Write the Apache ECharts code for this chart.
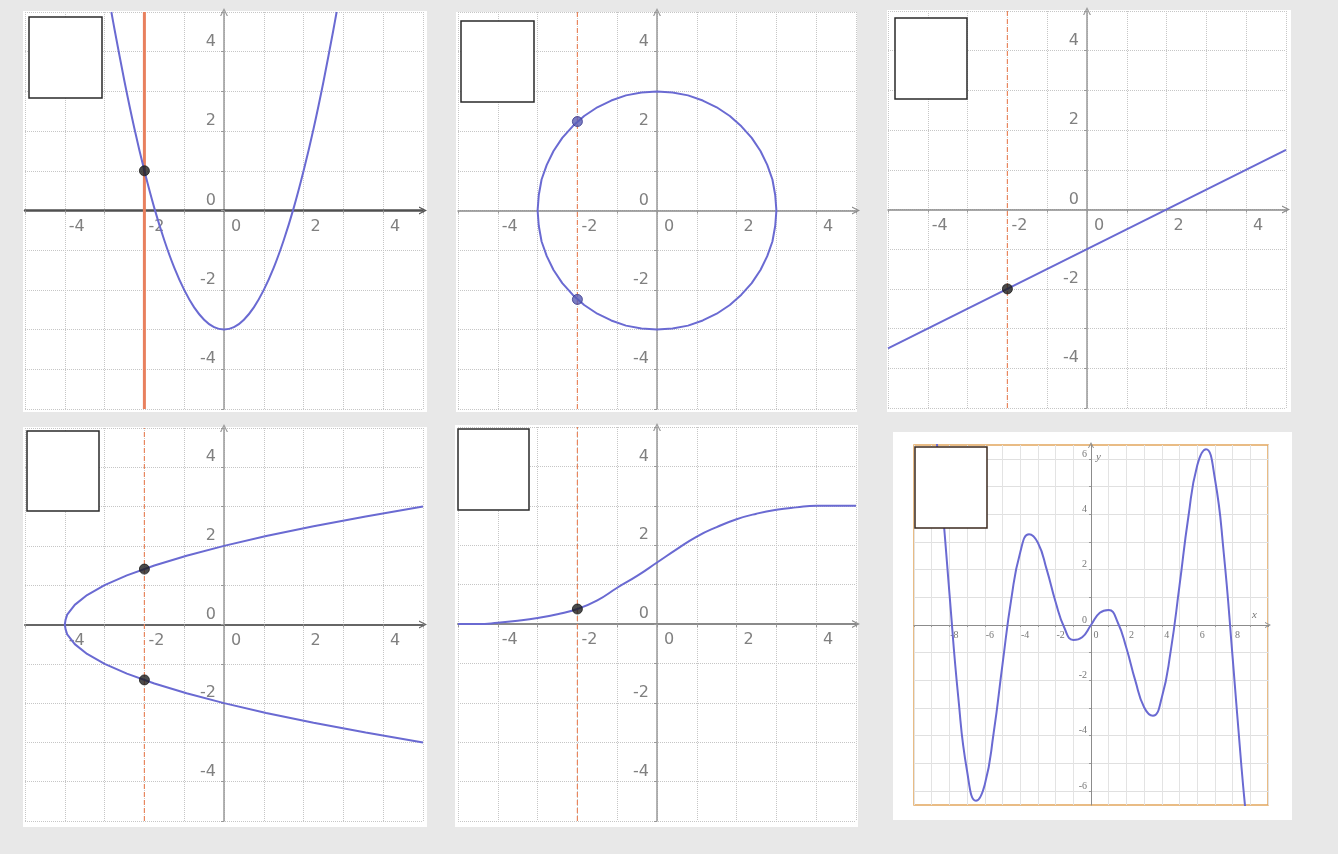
<!DOCTYPE html>
<html><head><meta charset="utf-8">
<script src="https://cdn.jsdelivr.net/npm/echarts@6.0.0/dist/echarts.min.js"></script>
<style>html,body{margin:0;padding:0;background:#e8e8e8}#c{width:1338px;height:854px}</style>
</head><body><div id="c"></div>
<script>
// ---------- data ----------
const labelledTicks = [-4, -2, 0, 2, 4];
const wideXLabels = [-8, -6, -4, -2, 0, 2, 4, 6, 8];
const wideYLabels = [-6, -4, -2, 0, 2, 4, 6];

const guideX = [-2, -2];
const guideY = [-5, 5];

// panel 1: parabola
const parabolaX = [-2.83, -2.75, -2.5, -2.25, -2, -1.75, -1.5, -1.25, -1, -0.75, -0.5, -0.25, 0, 0.25, 0.5, 0.75, 1, 1.25, 1.5, 1.75, 2, 2.25, 2.5, 2.75, 2.83];
const parabolaY = [5, 4.56, 3.25, 2.06, 1, 0.06, -0.75, -1.44, -2, -2.44, -2.75, -2.94, -3, -2.94, -2.75, -2.44, -2, -1.44, -0.75, 0.06, 1, 2.06, 3.25, 4.56, 5];
const parabolaPointX = [-2];
const parabolaPointY = [1];

// panel 2: circle
const circleX = [3, 2.97, 2.9, 2.77, 2.6, 2.38, 2.12, 1.83, 1.5, 1.15, 0.78, 0.39, 0,
  -0.39, -0.78, -1.15, -1.5, -1.83, -2.12, -2.38, -2.6, -2.77, -2.9, -2.97, -3,
  -2.97, -2.9, -2.77, -2.6, -2.38, -2.12, -1.83, -1.5, -1.15, -0.78, -0.39, 0,
  0.39, 0.78, 1.15, 1.5, 1.83, 2.12, 2.38, 2.6, 2.77, 2.9, 2.97, 3];
const circleY = [0, 0.39, 0.78, 1.15, 1.5, 1.83, 2.12, 2.38, 2.6, 2.77, 2.9, 2.97, 3,
  2.97, 2.9, 2.77, 2.6, 2.38, 2.12, 1.83, 1.5, 1.15, 0.78, 0.39, 0,
  -0.39, -0.78, -1.15, -1.5, -1.83, -2.12, -2.38, -2.6, -2.77, -2.9, -2.97, -3,
  -2.97, -2.9, -2.77, -2.6, -2.38, -2.12, -1.83, -1.5, -1.15, -0.78, -0.39, 0];
const circlePointX = [-2, -2];
const circlePointY = [2.24, -2.24];

// panel 3: straight line
const lineX = [-5, 5];
const lineY = [-3.5, 1.5];
const linePointX = [-2];
const linePointY = [-2];

// panel 4: sideways parabola
const sideX = [5, 3.56, 2.25, 1.06, 0, -0.94, -1.75, -2.44, -3, -3.44, -3.75, -3.94, -3.98, -4, -3.98, -3.94, -3.75, -3.44, -3, -2.44, -1.75, -0.94, 0, 1.06, 2.25, 3.56, 5];
const sideY = [3, 2.75, 2.5, 2.25, 2, 1.75, 1.5, 1.25, 1, 0.75, 0.5, 0.25, 0.125, 0, -0.125, -0.25, -0.5, -0.75, -1, -1.25, -1.5, -1.75, -2, -2.25, -2.5, -2.75, -3];
const sidePointX = [-2, -2];
const sidePointY = [1.41, -1.41];

// panel 5: S-curve
const sX = [-5, -4.5, -4, -3.5, -3, -2.5, -2, -1.5, -1, -0.5, 0, 0.5, 1, 1.5, 2, 2.5, 3, 3.5, 4, 4.5, 5];
const sY = [0, 0, 0.03, 0.08, 0.15, 0.25, 0.38, 0.6, 0.92, 1.22, 1.56, 1.9, 2.22, 2.46, 2.66, 2.8, 2.9, 2.96, 3, 3, 3];
const sPointX = [-2];
const sPointY = [0.38];

// panel 6: oscillating curve
const waveX = [-8.75, -8.5, -8, -7.5, -7, -6.5, -6, -5.5, -5, -4.5, -4, -3.5, -3, -2.5, -2, -1.5, -1, -0.5, 0, 0.5, 1, 1.5, 2, 2.5, 3, 3.5, 4, 4.5, 5, 5.5, 6, 6.5, 7, 7.5, 8, 8.5, 8.75];
const waveY = [6.84, 5.12, 1.16, -2.6, -5.28, -6.35, -5.76, -3.9, -1.42, 0.95, 2.62, 3.28, 2.97, 2.0, 0.83, -0.11, -0.54, -0.44, 0, 0.44, 0.54, 0.11, -0.83, -2.0, -2.97, -3.28, -2.62, -0.95, 1.42, 3.9, 5.76, 6.35, 5.28, 2.6, -1.16, -5.12, -6.84];

// ---------- helpers ----------
const zip = (xs, ys) => xs.map((x, i) => [x, ys[i]]);
const ARROW = 'path://M0,10 L5,0 L10,10 L8.4,10 L5,3.2 L1.6,10 Z';
const labelFmt = list => v => (list.some(t => Math.abs(t - v) < 1e-9) ? String(v) : '');

const CURVE = '#6a6ad2';
const GUIDE = '#e8875f';
const FONT = 'DejaVu Sans';

const gridBoxes = [
  { left: 25, top: 12, width: 398, height: 397 },
  { left: 458, top: 12, width: 398, height: 397 },
  { left: 888, top: 11, width: 398, height: 397 },
  { left: 25, top: 428, width: 398, height: 393 },
  { left: 458, top: 427, width: 398, height: 394 }
];

function mkX(gi, color, width) {
  return {
    type: 'value', gridIndex: gi, min: -5, max: 5, interval: 1, position: 'bottom',
    offset: -gridBoxes[gi].height / 2,
    axisLine: { onZero: false, lineStyle: { color: color, width: width }, symbol: ['none', ARROW], symbolSize: [8, 8] },
    axisTick: { show: true, length: 3, lineStyle: { color: '#999' } },
    axisLabel: { formatter: labelFmt(labelledTicks), fontSize: 16, color: '#808080', fontFamily: FONT,
      align: 'center', padding: [0, 0, 0, 24], margin: 8 },
    splitLine: { show: true, lineStyle: { color: '#c6c6c6', type: 'dotted', width: 1 } }
  };
}
function mkY(gi) {
  return {
    type: 'value', gridIndex: gi, min: -5, max: 5, interval: 1, position: 'left',
    offset: -gridBoxes[gi].width / 2,
    axisLine: { onZero: false, lineStyle: { color: '#9a9a9a', width: 1.5 }, symbol: ['none', ARROW], symbolSize: [8, 8] },
    axisTick: { show: true, length: 3, lineStyle: { color: '#999' } },
    axisLabel: { formatter: labelFmt(labelledTicks), fontSize: 16, color: '#808080', fontFamily: FONT,
      verticalAlign: 'bottom', padding: [0, 0, 2, 0], margin: 8 },
    splitLine: { show: true, lineStyle: { color: '#c6c6c6', type: 'dotted', width: 1 } }
  };
}
function curve(gi, xs, ys, smooth) {
  return { type: 'line', xAxisIndex: gi, yAxisIndex: gi, data: zip(xs, ys), smooth: smooth, showSymbol: false,
    lineStyle: { color: CURVE, width: 2 }, silent: true, z: 3 };
}
function guide(gi, solid) {
  return { type: 'line', xAxisIndex: gi, yAxisIndex: gi, data: zip(guideX, guideY), showSymbol: false, silent: true,
    lineStyle: solid ? { color: '#e8805e', width: 3 } : { color: GUIDE, width: 1.2, type: [5, 3] }, z: 2 };
}
function dots(gi, xs, ys, color, border) {
  return { type: 'scatter', xAxisIndex: gi, yAxisIndex: gi, data: zip(xs, ys), symbolSize: 10, silent: true,
    itemStyle: { color: color, borderColor: border || color, borderWidth: 1 }, z: 5 };
}

const panelBacks = [
  [23, 11, 404, 401], [456, 12, 401, 400], [887, 10, 404, 402],
  [23, 427, 404, 400], [455, 425, 403, 402], [893, 432, 399, 388]
];
const boxes = [
  [29, 17, 73, 81], [461, 21, 73, 81], [895, 18, 72, 81],
  [27, 431, 72, 80], [458, 429, 71, 81], [915, 447, 72, 81]
];

const option = {
  backgroundColor: '#e8e8e8',
  animation: false,
  grid: [
    ...gridBoxes,
    { left: 914, top: 459, width: 354, height: 332 },
    { left: 914, top: 445, width: 354, height: 360, show: true, backgroundColor: 'transparent', borderColor: '#e2a65e', borderWidth: 1.5 }
  ],
  xAxis: [
    mkX(0, '#505050', 2.5), mkX(1, '#8a8a8a', 1.5), mkX(2, '#8a8a8a', 1.5), mkX(3, '#666', 2), mkX(4, '#8a8a8a', 2),
    { type: 'value', gridIndex: 5, min: -10, max: 10, interval: 1, position: 'bottom', offset: -166,
      axisLine: { show: false, onZero: false }, axisTick: { show: true, length: 2, lineStyle: { color: '#999' } },
      axisLabel: { formatter: labelFmt(wideXLabels), fontSize: 10, color: '#777', fontFamily: 'Liberation Serif',
        align: 'center', padding: [0, 0, 0, 10], margin: 5 },
      splitLine: { show: false } },
    { type: 'value', gridIndex: 6, min: -10, max: 10, interval: 1, position: 'bottom', offset: -180,
      axisLine: { onZero: false, lineStyle: { color: '#8c8c8c', width: 1 }, symbol: ['none', ARROW], symbolSize: [6, 6] },
      axisTick: { show: false }, axisLabel: { show: false },
      splitLine: { show: true, lineStyle: { color: '#e3e3e3', width: 1 } },
      name: 'x', nameLocation: 'end', nameGap: -16,
      nameTextStyle: { fontStyle: 'italic', fontSize: 11, color: '#777', fontFamily: 'Liberation Serif', verticalAlign: 'bottom', padding: [0, 0, 4, 0] } }
  ],
  yAxis: [
    mkY(0), mkY(1), mkY(2), mkY(3), mkY(4),
    { type: 'value', gridIndex: 5, min: -6, max: 6, interval: 1, position: 'left', offset: -177,
      axisLine: { show: false, onZero: false }, axisTick: { show: true, length: 2, lineStyle: { color: '#999' } },
      axisLabel: { formatter: labelFmt(wideYLabels), fontSize: 10, color: '#777', fontFamily: 'Liberation Serif',
        verticalAlign: 'bottom', margin: 4 },
      splitLine: { show: true, lineStyle: { color: '#e0e0e0', width: 1 } } },
    { type: 'value', gridIndex: 6, min: -6.5, max: 6.5, position: 'left', offset: -177,
      axisLine: { onZero: false, lineStyle: { color: '#8c8c8c', width: 1 }, symbol: ['none', ARROW], symbolSize: [6, 6] },
      axisTick: { show: false }, axisLabel: { show: false }, splitLine: { show: false },
      name: 'y', nameLocation: 'end', nameGap: -18,
      nameTextStyle: { fontStyle: 'italic', fontSize: 11, color: '#777', fontFamily: 'Liberation Serif', align: 'left', padding: [0, 0, 0, 5] } }
  ],
  graphic: [
    ...panelBacks.map(r => ({ type: 'rect', silent: true, z: -1, shape: { x: r[0], y: r[1], width: r[2], height: r[3] }, style: { fill: '#ffffff' } })),
    ...boxes.map((b, i) => ({ type: 'rect', silent: true, z: 100, shape: { x: b[0], y: b[1], width: b[2], height: b[3] },
      style: { fill: '#ffffff', stroke: i === 5 ? '#3b2a1f' : '#2a2a2a', lineWidth: 1.5 } }))
  ],
  series: [
    guide(0, true), curve(0, parabolaX, parabolaY, 0.3), dots(0, parabolaPointX, parabolaPointY, '#1e1e1e'),
    guide(1, false), curve(1, circleX, circleY, false), dots(1, circlePointX, circlePointY, '#5a5cb4', '#34348a'),
    guide(2, false), curve(2, lineX, lineY, false), dots(2, linePointX, linePointY, '#1e1e1e'),
    guide(3, false), curve(3, sideX, sideY, false), dots(3, sidePointX, sidePointY, '#1e1e1e'),
    guide(4, false), curve(4, sX, sY, 0.5), dots(4, sPointX, sPointY, '#1e1e1e'),
    { type: 'line', xAxisIndex: 6, yAxisIndex: 6, data: zip(waveX, waveY), smooth: 0.5, showSymbol: false, silent: true,
      lineStyle: { color: CURVE, width: 2 }, z: 3 }
  ]
};

const chart = echarts.init(document.getElementById('c'), null, { renderer: 'canvas' });
chart.setOption(option);
</script>
</body></html>
